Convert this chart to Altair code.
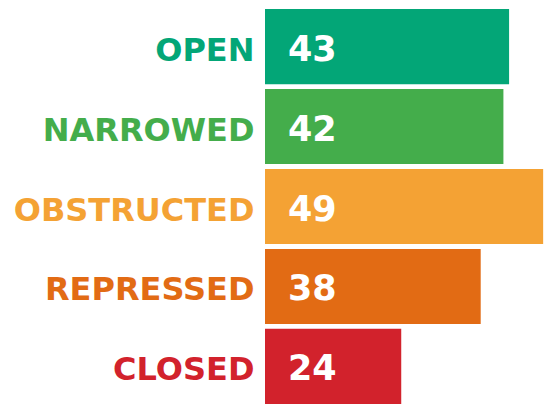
import altair as alt
import pandas as pd

categories = ["OPEN", "NARROWED", "OBSTRUCTED", "REPRESSED", "CLOSED"]
values = [43, 42, 49, 38, 24]
colors = ["#03a677", "#44ad4b", "#f4a234", "#e26b14", "#d2222c"]

df = pd.DataFrame({"category": categories, "value": values})

label_expr = " : ".join(
    f"datum.value == '{c}' ? '{col}'" for c, col in zip(categories, colors)
) + " : '#333'"

y_enc = alt.Y(
    "category:N",
    sort=categories,
    scale=alt.Scale(paddingInner=0.06, paddingOuter=0),
    axis=alt.Axis(
        title=None,
        domain=False,
        ticks=False,
        labelFont="DejaVu Sans",
        labelFontWeight="bold",
        labelFontSize=32,
        labelPadding=11,
        labelOffset=4,
        labelColor=alt.ExprRef(label_expr),
        minExtent=265,
        maxExtent=265,
        labelLimit=0,
    ),
)

color_enc = alt.Color(
    "category:N",
    scale=alt.Scale(domain=categories, range=colors),
    legend=None,
)

bars = alt.Chart(df).mark_bar().encode(
    x=alt.X("value:Q", scale=alt.Scale(domain=[0, 49.15], nice=False, zero=True), axis=None),
    y=y_enc,
    color=color_enc,
)

text = alt.Chart(df).mark_text(
    align="left", baseline="middle", dx=23, dy=3,
    font="DejaVu Sans", fontWeight="bold", fontSize=35, color="white",
).encode(
    x=alt.datum(0),
    y=alt.Y("category:N", sort=categories),
    text=alt.Text("value:Q"),
)

chart = (bars + text).properties(
    width=279,
    height=395,
    padding={"top": 9, "left": 0, "right": 0, "bottom": 0},
).configure(background="white").configure_view(stroke=None)

chart.save("out.html", embed_options={"renderer": "svg", "actions": False})
